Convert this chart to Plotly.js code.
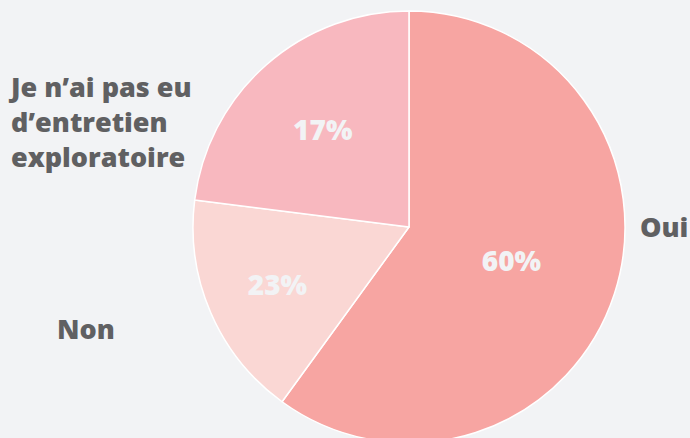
<!DOCTYPE html>
<html>
<head>
<meta charset="utf-8">
<script src="https://cdn.plot.ly/plotly-3.0.1.min.js"></script>
<style>
html,body{margin:0;padding:0;background:#F2F3F5;overflow:hidden;width:690px;height:438px;}
#chart{width:690px;height:454px;}
</style>
</head>
<body>
<div id="chart"></div>
<script>
// Categories in drawing order (clockwise from 12 o'clock)
const categories = ["Oui", "Non", "Je n’ai pas eu<br>d’entretien<br>exploratoire"];
// Slice shares as drawn in the picture
const sliceShares = [60, 17, 23];
// Percent labels as printed on the slices
const printedPct = ["60%", "23%", "17%"];
const sliceColors = ["#F7A5A2", "#FAD7D4", "#F8B8BF"];

const trace = {
  type: "pie",
  labels: categories,
  values: sliceShares,
  text: printedPct,
  textinfo: "text",
  textposition: "inside",
  insidetextorientation: "horizontal",
  sort: false,
  direction: "clockwise",
  rotation: 0,
  hole: 0,
  marker: {colors: sliceColors, line: {color: "#FFFFFF", width: 1.5}},
  insidetextfont: {family: "Open Sans, sans-serif", size: 28, color: "#F2F3F5", weight: 800},
  domain: {x: [193/690, 625/690], y: [11/454, 443/454]},
  showlegend: false,
  hoverinfo: "none"
};

const labelFont = {family: "Open Sans, sans-serif", size: 27, color: "#606062", weight: 800};
const annotations = [
  {text: categories[0], x: 638, y: 226, xanchor: "left", align: "left"},
  {text: categories[1], x: 86, y: 328, xanchor: "center", align: "center"},
  {text: categories[2], x: 6, y: 122, xanchor: "left", align: "left"}
].map(a => ({
  text: a.text, xref: "paper", yref: "paper",
  x: a.x / 690, y: 1 - a.y / 454,
  xanchor: a.xanchor, yanchor: "middle", align: a.align,
  showarrow: false, font: labelFont
}));

const layout = {
  width: 690, height: 454,
  margin: {l: 0, r: 0, t: 0, b: 0},
  paper_bgcolor: "#F2F3F5",
  plot_bgcolor: "#F2F3F5",
  annotations: annotations
};

Plotly.newPlot("chart", [trace], layout, {displayModeBar: false, staticPlot: true});
</script>
</body>
</html>
